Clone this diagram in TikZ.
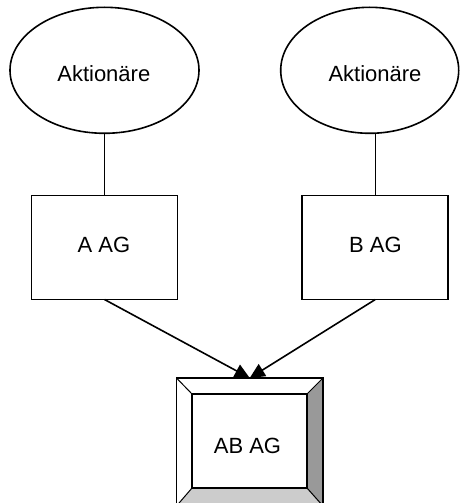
\documentclass[tikz,border=0pt]{standalone}
\usepackage{fontspec}
\setmainfont{Liberation Sans}
\usetikzlibrary{shapes.geometric,arrows.meta}
\definecolor{bevdark}{HTML}{999999}
\definecolor{bevlight}{HTML}{CCCCCC}
\begin{document}
\begin{tikzpicture}[x=1pt,y=-1pt,
  oval/.style={ellipse,draw,line width=1.6pt,inner sep=0pt,outer sep=0pt,minimum height=126pt},
  company/.style={rectangle,draw,line width=1.8pt,inner sep=0pt,outer sep=0pt,minimum width=146pt,minimum height=104pt},
  lbl/.style={font=\fontsize{22}{26}\selectfont,inner sep=0pt},
  link/.style={line width=1.6pt},
  flow/.style={line width=1.6pt,-{Triangle[length=15pt,width=14pt]}},
  bevedge/.style={line width=1pt}]
\useasboundingbox (0,0) rectangle (460,503);
% shareholders
\node[oval,minimum width=189pt] (aL) at (104.5,70.3) {};
\node[oval,minimum width=178pt] (aR) at (369.7,70.3) {};
% companies
\node[company] (A) at (104.5,247.5) {};
\node[company] (B) at (375.3,247.5) {};
% merged company (outer frame, bottom edge runs past the picture)
\node[rectangle,inner sep=0pt,outer sep=0pt,minimum width=146.5pt,minimum height=128pt] (AB) at (249.75,442) {};
\coordinate (inw) at ([xshift=15.5pt,yshift=-16pt]AB.north west);
\coordinate (ine) at ([xshift=-16pt,yshift=-16pt]AB.north east);
\coordinate (ise) at ([xshift=-16pt,yshift=18pt]AB.south east);
\coordinate (isw) at ([xshift=15.5pt,yshift=18pt]AB.south west);
\fill[bevlight] (AB.south west) -- (AB.south east) -- (ise) -- (isw) -- cycle;
\fill[bevdark] (AB.north east) -- (AB.south east) -- (ise) -- (ine) -- cycle;
\draw[bevedge] (AB.north west) -- (inw) (AB.north east) -- (ine)
  (AB.south east) -- (ise) (AB.south west) -- (isw);
\draw[line width=1.6pt] (inw) rectangle (ise);
\draw[line width=1.8pt] (AB.north west) rectangle (AB.south east);
% connectors
\draw[link] (aL) -- (A);
\draw[link] (B.north) -- (B.north |- aR.south);
\draw[flow] (A.south) -- (AB.north);
\draw[flow] (B.south) -- (AB.north);
% texts
\node[lbl] (tL) at (103.8,74) {Aktionäre};
\node[lbl] (tR) at (375,74) {Aktionäre};
\node[lbl] (tA) at (104,244.7) {A AG};
\node[lbl] (tB) at (375.5,244.7) {B AG};
\node[lbl] (tAB) at (247.5,445.8) {AB AG};
\end{tikzpicture}
\end{document}
